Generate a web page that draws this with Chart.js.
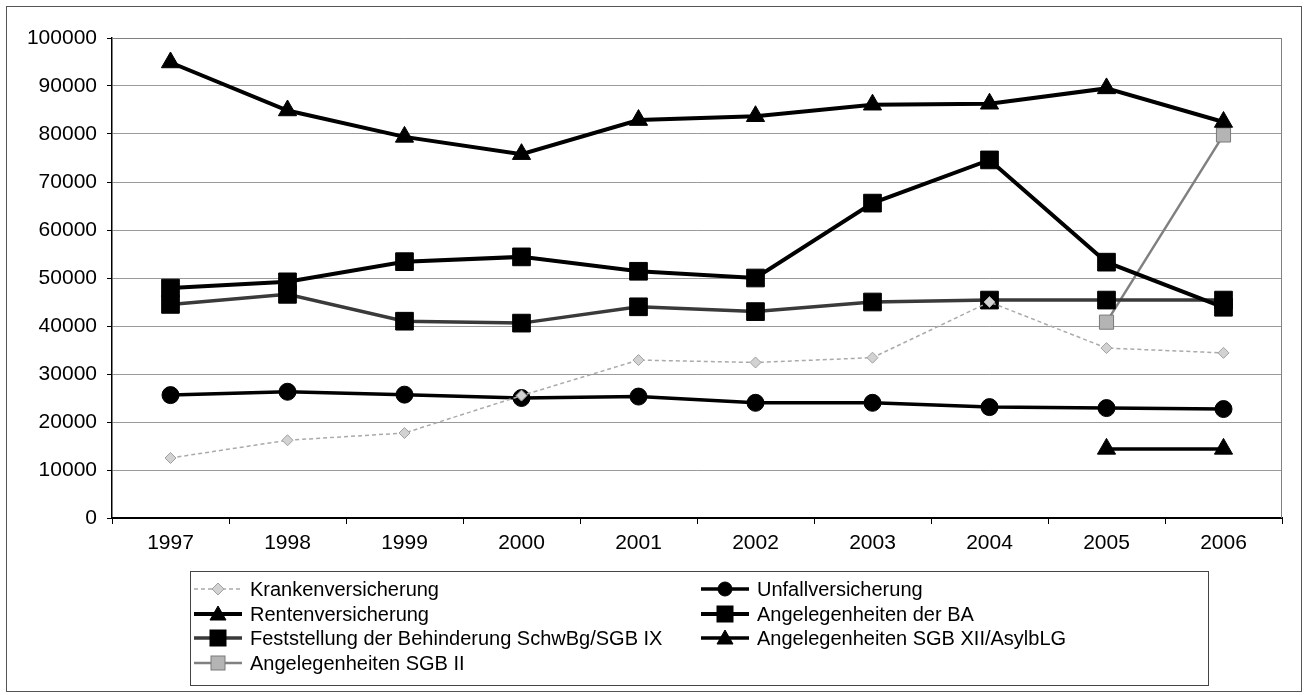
<!DOCTYPE html>
<html>
<head>
<meta charset="utf-8">
<script src="https://cdn.jsdelivr.net/npm/chart.js@4"></script>
<style>
  html, body { margin: 0; padding: 0; background: #fff; }
  #wrap { position: relative; width: 1305px; height: 695px; overflow: hidden; }
  #frame { position: absolute; left: 6px; top: 6px; width: 1296px; height: 686px; border: 1px solid #555; box-sizing: border-box; pointer-events: none; }
  #legend {
    position: absolute; left: 190px; top: 571px; width: 1019px; height: 115px;
    border: 1px solid #444; box-sizing: border-box;
    font-family: "Liberation Sans", Arial, sans-serif; font-size: 20px; color: #000;
  }
  .item { position: absolute; height: 24px; line-height: 24px; white-space: nowrap; }
  .item svg { position: absolute; left: 0; top: 0; }
  .item span { position: absolute; left: 58px; top: 0; }
</style>
</head>
<body>
<div id="wrap">
  <canvas id="chart" width="1305" height="695"></canvas>
  <div id="frame"></div>
  <div id="legend"></div>
</div>
<script>
// Chart data
const years = ['1997', '1998', '1999', '2000', '2001', '2002', '2003', '2004', '2005', '2006'];
const krankenversicherung = [12500, 16200, 17700, 25500, 32900, 32400, 33400, 45000, 35400, 34400];
const unfallversicherung = [25600, 26300, 25700, 25000, 25300, 24000, 24000, 23100, 22900, 22700];
const rentenversicherung = [94900, 84900, 79400, 75800, 82900, 83700, 86100, 86300, 89500, 82500];
const angelegenheitenBA = [47900, 49200, 53400, 54400, 51400, 50000, 65600, 74600, 53300, 43900];
const feststellung = [44500, 46600, 41000, 40600, 44000, 43000, 45000, 45400, 45400, 45400];
const sgbXII = [null, null, null, null, null, null, null, null, 14400, 14400];
const sgbII = [null, null, null, null, null, null, null, null, 40800, 79800];
const yTicks = [0, 10000, 20000, 30000, 40000, 50000, 60000, 70000, 80000, 90000, 100000];

const FONT = '"Liberation Sans", Arial, sans-serif';

// dataset styles (also used for the legend icons)
const series = [
    { label: 'Krankenversicherung', data: krankenversicherung, color: '#aaaaaa', width: 1.5, dash: [4, 3],
      point: 'rectRot', radius: 5.5, fill: '#d2d2d2', pBorder: '#a0a0a0' },
    { label: 'Unfallversicherung', data: unfallversicherung, color: '#000000', width: 3.5, dash: [],
      point: 'circle', radius: 8.5, fill: '#000000', pBorder: '#000000' },
    { label: 'Rentenversicherung', data: rentenversicherung, color: '#000000', width: 4, dash: [],
      point: 'triangle', radius: 10.5, fill: '#000000', pBorder: '#000000' },
    { label: 'Angelegenheiten der BA', data: angelegenheitenBA, color: '#000000', width: 4, dash: [],
      point: 'rect', radius: 12.5, fill: '#000000', pBorder: '#000000' },
    { label: 'Feststellung der Behinderung SchwBg/SGB IX', data: feststellung, color: '#3a3a3a', width: 3.5, dash: [],
      point: 'rect', radius: 12.5, fill: '#000000', pBorder: '#000000' },
    { label: 'Angelegenheiten SGB XII/AsylbLG', data: sgbXII, color: '#000000', width: 3.5, dash: [],
      point: 'triangle', radius: 10.5, fill: '#000000', pBorder: '#000000' },
    { label: 'Angelegenheiten SGB II', data: sgbII, color: '#808080', width: 2.5, dash: [],
      point: 'rect', radius: 10, fill: '#b4b4b4', pBorder: '#7a7a7a' }
];

// draws the grey frame on top and right of the plot area
const plotFrame = {
    id: 'plotFrame',
    beforeDatasetsDraw(chart) {
        const a = chart.chartArea;
        const ctx = chart.ctx;
        ctx.save();
        ctx.strokeStyle = '#808080';
        ctx.lineWidth = 1;
        ctx.beginPath();
        ctx.moveTo(a.left, a.top + 0.5);
        ctx.lineTo(a.right - 0.5, a.top + 0.5);
        ctx.lineTo(a.right - 0.5, a.bottom);
        ctx.stroke();
        ctx.restore();
    }
};

const ctx = document.getElementById('chart').getContext('2d');
new Chart(ctx, {
    type: 'line',
    data: {
        labels: years,
        datasets: series.map(s => ({
            label: s.label,
            data: s.data,
            borderColor: s.color,
            borderWidth: s.width,
            borderDash: s.dash,
            backgroundColor: s.fill,
            pointStyle: s.point,
            pointRadius: s.radius,
            pointHoverRadius: s.radius,
            pointBackgroundColor: s.fill,
            pointBorderColor: s.pBorder,
            pointBorderWidth: 1,
            tension: 0,
            spanGaps: false,
            fill: false
        }))
    },
    options: {
        responsive: false,
        animation: false,
        devicePixelRatio: 1,
        layout: { padding: { left: 0, top: 38, right: 23, bottom: 137 } },
        plugins: {
            legend: { display: false },
            tooltip: { enabled: false }
        },
        scales: {
            x: {
                offset: true,
                grid: { display: true, offset: true, drawOnChartArea: false, tickLength: 6, tickColor: '#000' },
                border: { display: true, color: '#000', width: 2 },
                ticks: { color: '#000', padding: 7, maxRotation: 0, font: { family: FONT, size: 21 } },
                afterFit: s => { s.height = 40; }
            },
            y: {
                min: 0,
                max: 100000,
                afterBuildTicks: s => { s.ticks = yTicks.map(v => ({ value: v })); },
                grid: { color: '#9a9a9a', lineWidth: 1, tickLength: 5, tickColor: '#000' },
                border: { display: true, color: '#000', width: 1.5 },
                ticks: { color: '#000', padding: 10, font: { family: FONT, size: 21 }, callback: v => String(v) },
                afterFit: s => { s.width = 112; }
            }
        }
    },
    plugins: [plotFrame]
});

// HTML legend in two columns, same styles as the datasets
function iconSvg(s) {
    const w = 52, h = 24, cx = 26, cy = 12;
    let marker = '';
    if (s.point === 'circle') {
        marker = `<circle cx="${cx}" cy="${cy}" r="7" fill="${s.fill}" stroke="${s.pBorder}"/>`;
    } else if (s.point === 'triangle') {
        marker = `<polygon points="${cx},${cy - 8} ${cx + 8},${cy + 6} ${cx - 8},${cy + 6}" fill="${s.fill}" stroke="${s.pBorder}"/>`;
    } else if (s.point === 'rect') {
        const r = s.label.indexOf('SGB II') >= 0 ? 7 : 8;
        marker = `<rect x="${cx - r}" y="${cy - r}" width="${2 * r}" height="${2 * r}" fill="${s.fill}" stroke="${s.pBorder}"/>`;
    } else {
        marker = `<polygon points="${cx},${cy - 6} ${cx + 6},${cy} ${cx},${cy + 6} ${cx - 6},${cy}" fill="${s.fill}" stroke="${s.pBorder}"/>`;
    }
    const dash = s.dash.length ? `stroke-dasharray="${s.dash.join(',')}"` : '';
    return `<svg width="${w}" height="${h}"><line x1="2" y1="${cy}" x2="${w - 2}" y2="${cy}" stroke="${s.color}" stroke-width="${s.width}" ${dash}/>${marker}</svg>`;
}

const legend = document.getElementById('legend');
series.forEach((s, i) => {
    const col = i % 2, row = Math.floor(i / 2);
    const div = document.createElement('div');
    div.className = 'item';
    div.style.left = (col === 0 ? 1 : 508) + 'px';
    div.style.top = (5 + row * 24.7) + 'px';
    div.innerHTML = iconSvg(s) + `<span>${s.label}</span>`;
    legend.appendChild(div);
});
</script>
</body>
</html>
